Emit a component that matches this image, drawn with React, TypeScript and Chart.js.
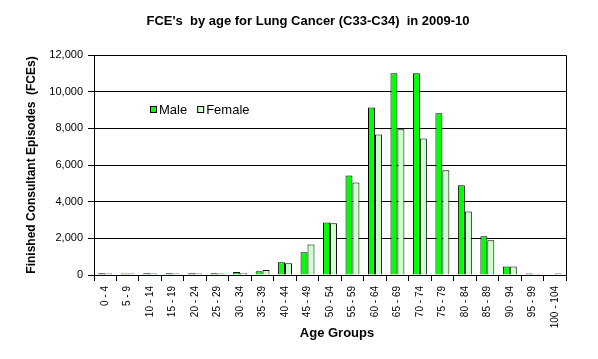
import React, { useEffect, useRef } from "react";
import { Chart, registerables } from "chart.js";

Chart.register(...registerables);

const categories = ["0 - 4", "5 - 9", "10 - 14", "15 - 19", "20 - 24", "25 - 29", "30 - 34", "35 - 39", "40 - 44", "45 - 49", "50 - 54", "55 - 59", "60 - 64", "65 - 69", "70 - 74", "75 - 79", "80 - 84", "85 - 89", "90 - 94", "95 - 99", "100 - 104"];
const maleValues = [90, 80, 90, 90, 90, 90, 170, 210, 690, 1240, 2870, 5430, 9140, 11000, 11000, 8820, 4890, 2110, 470, 80, 30];
const femaleValues = [80, 80, 80, 80, 80, 80, 100, 270, 640, 1670, 2820, 5050, 7670, 7950, 7450, 5710, 3470, 1890, 470, 70, 80];
const yTicks = [0, 2000, 4000, 6000, 8000, 10000, 12000];

const titleText = "FCE's  by age for Lung Cancer (C33-C34)  in 2009-10";
const yTitle = "Finished Consultant Episodes  (FCEs)";
const xTitle = "Age Groups";
const maleLabel = "Male";
const femaleLabel = "Female";
const maleColor = "#00FF00";
const femaleColor = "#CCFFCC";
const FONT = "Arial, 'Liberation Sans', sans-serif";

const frame = {
  id: "frame",
  afterDatasetsDraw(chart: any) {
    const { ctx, chartArea: a } = chart;
    ctx.save();
    ctx.strokeStyle = "#000";
    ctx.lineWidth = 1;
    const l = Math.round(a.left) + 0.5, t = Math.round(a.top) + 0.5;
    const r = Math.round(a.right) + 0.5, b = Math.round(a.bottom) + 0.5;
    ctx.beginPath();
    ctx.moveTo(l, t);
    ctx.lineTo(r, t);
    ctx.lineTo(r, b);
    ctx.stroke();
    ctx.restore();
  },
  afterDraw(chart: any) {
    const { ctx, chartArea: a } = chart;
    ctx.save();
    ctx.fillStyle = "#000";
    ctx.textAlign = "center";
    ctx.textBaseline = "middle";
    ctx.font = `bold 13px ${FONT}`;
    ctx.fillText(titleText, 308, 21.5);
    ctx.fillText(xTitle, (a.left + a.right) / 2 + 7, 333);

    const items = chart.data.datasets.map((d: any) => ({ label: d.label, color: d.backgroundColor }));
    ctx.font = `13px ${FONT}`;
    ctx.textAlign = "left";
    let x = 150;
    const y = 110;
    items.forEach((it: any) => {
      ctx.fillStyle = it.color;
      ctx.fillRect(x, y - 4, 7, 7);
      ctx.strokeStyle = "#000";
      ctx.lineWidth = 1;
      ctx.strokeRect(x + 0.5, y - 3.5, 6, 6);
      ctx.fillStyle = "#000";
      ctx.fillText(it.label, x + 9, y);
      x += 9 + ctx.measureText(it.label).width + 10;
    });
    ctx.restore();
  },
};

export default function App() {
  const ref = useRef<HTMLCanvasElement | null>(null);
  useEffect(() => {
    document.body.style.margin = "0";
    const chart = new Chart(ref.current as HTMLCanvasElement, {
      type: "bar",
      data: {
        labels: categories,
        datasets: [
          { label: maleLabel, data: maleValues, backgroundColor: maleColor, borderColor: "#000", borderWidth: 1, categoryPercentage: 0.62, barPercentage: 1 },
          { label: femaleLabel, data: femaleValues, backgroundColor: femaleColor, borderColor: "#000", borderWidth: 1, categoryPercentage: 0.62, barPercentage: 1 },
        ],
      },
      options: {
        responsive: false,
        animation: false,
        layout: { padding: { top: 55, right: 32, bottom: 0, left: 0 } },
        plugins: {
          legend: { display: false },
          tooltip: { enabled: false },
          title: { display: false },
        },
        scales: {
          x: {
            ticks: { autoSkip: false, maxRotation: 90, minRotation: 90, color: "#000", font: { family: FONT, size: 10 }, padding: 5 },
            grid: { drawOnChartArea: false, color: "#000", tickLength: 6, offset: true },
            border: { color: "#000" },
            title: { display: false },
            afterFit: (s: any) => { s.height = 84; },
          },
          y: {
            min: 0,
            max: 12000,
            afterBuildTicks: (s: any) => { s.ticks = yTicks.map((v) => ({ value: v })); },
            ticks: { color: "#000", font: { family: FONT, size: 11 }, padding: 5, callback: (v: any) => Number(v).toLocaleString("en-US") },
            grid: { color: "#000", tickLength: 6 },
            border: { color: "#000" },
            title: { display: true, text: yTitle, color: "#000", font: { family: FONT, size: 12, weight: "bold" }, padding: { top: 24, bottom: 0 } },
            afterFit: (s: any) => { s.width = 94; },
          },
        },
      },
      plugins: [frame],
    } as any);
    return () => chart.destroy();
  }, []);
  return (
    <div style={{ width: 598, height: 359 }}>
      <canvas ref={ref} width={598} height={359} style={{ display: "block" }} />
    </div>
  );
}
